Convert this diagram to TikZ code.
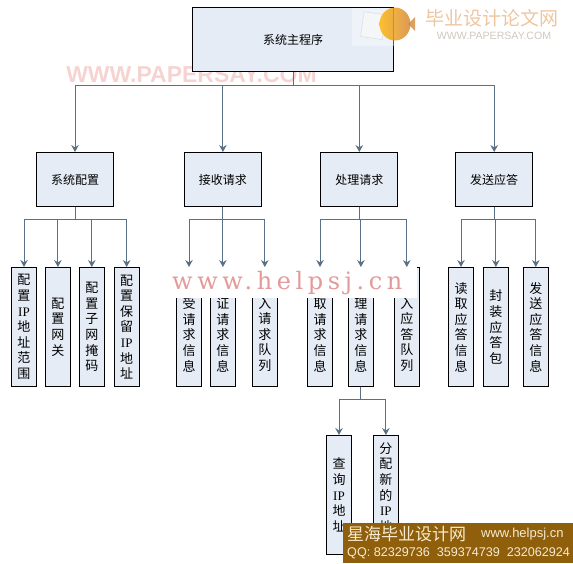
\documentclass[tikz,border=0pt]{standalone}
\usepackage{fontspec}
\usepackage{xcolor}
\usepackage{tikz}
\usetikzlibrary{arrows.meta,positioning}
\setmainfont{Noto Sans CJK SC}
\newfontfamily\ipfont{Liberation Serif}
\newfontfamily\markfont[LetterSpace=19]{DejaVu Serif}
\newfontfamily\latinfont{Liberation Sans}
\newcommand{\ipt}{{\ipfont IP}}
\definecolor{slate}{HTML}{5A7085}
\definecolor{light}{HTML}{E6ECF6}
\definecolor{pinkmark}{HTML}{F6D3D0}
\definecolor{helpmark}{HTML}{E49A9A}
\definecolor{tanmark}{HTML}{EDC6A0}
\definecolor{greymark}{HTML}{CFC8BE}
\definecolor{banner}{HTML}{8F5F0C}
\definecolor{cream}{HTML}{F7EBCF}

\begin{document}
\begin{tikzpicture}[x=1pt,y=-1pt,box/.style={draw=black,fill=light,line width=.9pt,inner sep=0pt,align=center},
  topbox/.style={box,minimum width=77pt,minimum height=54pt,font=\fontsize{12}{14}\selectfont},
  leaf/.style={box,minimum width=25pt,minimum height=119pt,text width=24pt,font=\fontsize{13}{15.6}\selectfont},
  arr/.style={-{Stealth[length=7pt,width=7.5pt]},draw=slate,line width=1pt}]
\useasboundingbox (0,0) rectangle (573,563);
% watermarks behind the chart
\node[font=\latinfont\bfseries\fontsize{23}{23}\selectfont,text=pinkmark,inner sep=0pt] (wm) at (191.5,74.5) {WWW.PAPERSAY.COM};
% top levels
\node[box,minimum width=201pt,minimum height=64pt,font=\fontsize{12}{14}\selectfont] (main) at (293,39.5) {系统主程序};
\node[topbox] (cfg) at (75,179.5) {系统配置};
\node[topbox,right=70pt of cfg] (recv) {接收请求};
\node[topbox,right=58.5pt of recv] (proc) {处理请求};
\node[topbox,right=57pt of proc] (send) {发送应答};
% leaves
\node[leaf] (ca) at (24,327) {配\\置\\\ipt\\地\\址\\范\\围};
\node[leaf,right=8pt of ca] (cb) {配\\置\\网\\关};
\node[leaf,right=8pt of cb] (cc) {配\\置\\子\\网\\掩\\码};
\node[leaf,right=9pt of cc] (cd) {配\\置\\保\\留\\\ipt\\地\\址};
\node[leaf] (ra) at (189,327) {接\\受\\请\\求\\信\\息};
\node[leaf,right=8pt of ra] (rb) {验\\证\\请\\求\\信\\息};
\node[leaf,right=16pt of rb] (rc) {写\\入\\请\\求\\队\\列};
\node[leaf] (pa) at (320,327) {读\\取\\请\\求\\信\\息};
\node[leaf,right=15pt of pa] (pb) {处\\理\\请\\求\\信\\息};
\node[leaf,right=20pt of pb] (pc) {写\\入\\应\\答\\队\\列};
\node[leaf] (sa) at (461,327) {读\\取\\应\\答\\信\\息};
\node[leaf,right=9pt of sa] (sb) {封\\装\\应\\答\\包};
\node[leaf,right=14pt of sb] (sc) {发\\送\\应\\答\\信\\息};
\node[leaf] (qa) at (339,495) {查\\询\\\ipt\\地\\址};
\node[leaf,right=21pt of qa] (qb) {分\\配\\新\\的\\\ipt\\地\\址};
% connectors
\draw[arr] (main.south)--++(0,14)-|(cfg.north);\draw[arr] (main.south)--++(0,14)-|(recv.north);
\draw[arr] (main.south)--++(0,14)-|(proc.north);\draw[arr] (main.south)--++(0,14)-|(send.north);
\draw[arr] (cfg.south)--++(0,13)-|(ca.north);\draw[arr] (cfg.south)--++(0,13)-|(cb.north);
\draw[arr] (cfg.south)--++(0,13)-|(cc.north);\draw[arr] (cfg.south)--++(0,13)-|(cd.north);
\draw[arr] (recv.south)--++(0,13)-|(ra.north);\draw[arr] (recv.south)--++(0,13)-|(rb.north);
\draw[arr] (recv.south)--++(0,13)-|(rc.north);
\draw[arr] (proc.south)--++(0,13)-|(pa.north);\draw[arr] (proc.south)--++(0,13)-|(pb.north);
\draw[arr] (proc.south)--++(0,13)-|(pc.north);
\draw[arr] (send.south)--++(0,13)-|(sa.north);\draw[arr] (send.south)--++(0,13)-|(sb.north);
\draw[arr] (send.south)--++(0,13)-|(sc.north);
\draw[arr] (pb.south)--++(0,13)-|(qa.north);\draw[arr] (pb.south)--++(0,13)-|(qb.north);
% white band with the site name
\fill[white] (170,266.5) rectangle (417,298);
\node[font=\markfont\fontsize{24}{24}\selectfont,text=helpmark,inner sep=0pt,anchor=base west] (site) at (172,289) {www.helpsj.cn};
% logo
\fill[white,opacity=.35] (352,8) rectangle (395,46);
\draw[black!18,fill=black!3,opacity=.8,rotate around={-8:(372,27)}] (362,13) rectangle (384,38);
\fill[brown!75!orange,opacity=.75] (408,24)--(415,17)--(415,31)--cycle;
\shade[left color=orange!60!yellow,right color=brown!70!orange,opacity=.8] (395,24) ellipse (15.5 and 16.5);
\node[font=\fontsize{19}{19}\selectfont,text=tanmark,inner sep=0pt] (logoa) at (491.5,18.5) {毕业设计论文网};
\node[font=\latinfont\fontsize{10.6}{11}\selectfont,text=greymark,inner sep=0pt] (logob) at (494,36) {WWW.PAPERSAY.COM};
% banner
\fill[banner] (343,523) rectangle (573,563);
\node[font=\fontsize{17}{17}\selectfont,text=cream,inner sep=0pt,anchor=west] (bana) at (347,534) {星海毕业设计网};
\node[font=\latinfont\fontsize{13}{12}\selectfont,text=cream,inner sep=0pt,anchor=west] (banb) at (481,534) {www.helpsj.cn};
\node[font=\latinfont\fontsize{12.6}{12}\selectfont,text=cream,inner sep=0pt,anchor=west] (banc) at (347,553) {QQ: 82329736\ \ 359374739\ \ 232062924};
\end{tikzpicture}
\end{document}
